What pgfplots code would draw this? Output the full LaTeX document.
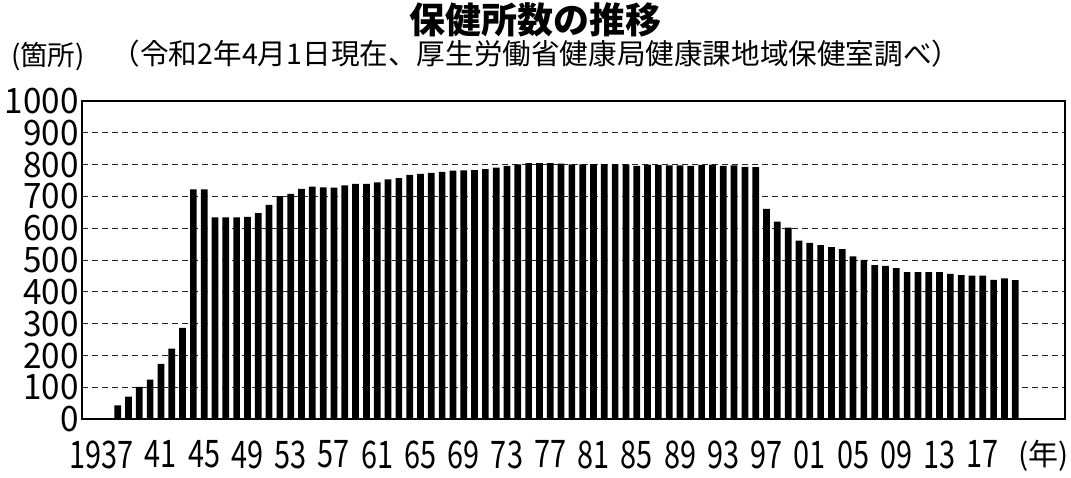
\documentclass[border=0pt]{standalone}
\usepackage{pgfplots}
\pgfplotsset{compat=1.18}
\usepackage{fontspec}
\setmainfont{Noto Sans CJK JP}
\newfontfamily\condfont[FakeStretch=0.76]{Noto Sans CJK JP}
\newfontfamily\semicondfont[FakeStretch=0.95]{Noto Sans CJK JP}

% Number of public health centres by year
\pgfplotstableread{
year count
1937 44
1938 71
1939 102
1940 125
1941 174
1942 222
1943 287
1944 722
1945 722
1946 634
1947 634
1948 634
1949 636
1950 648
1951 674
1952 701
1953 708
1954 724
1955 731
1956 729
1957 728
1958 735
1959 740
1960 740
1961 744
1962 754
1963 758
1964 768
1965 771
1966 774
1967 777
1968 781
1969 782
1970 783
1971 786
1972 791
1973 796
1974 801
1975 805
1976 805
1977 805
1978 803
1979 801
1980 801
1981 802
1982 802
1983 802
1984 801
1985 796
1986 800
1987 799
1988 798
1989 798
1990 796
1991 799
1992 800
1993 796
1994 798
1995 793
1996 792
1997 661
1998 621
1999 602
2000 561
2001 554
2002 547
2003 541
2004 535
2005 512
2006 501
2007 484
2008 482
2009 475
2010 462
2011 462
2012 462
2013 462
2014 457
2015 453
2016 451
2017 451
2018 438
2019 443
2020 437
}\hoken

\begin{document}
\begin{tikzpicture}
\path[use as bounding box] (0,0) rectangle (1071pt,478pt);

\node[font=\fontsize{36}{36}\selectfont\bfseries] at (535pt,458pt) {保健所数の推移};
\node[font=\fontsize{28.6}{28.6}\selectfont] at (536pt,424pt) {（令和2年4月1日現在、厚生労働省健康局健康課地域保健室調べ）};
\node[font=\fontsize{27.5}{27.5}\selectfont] at (48pt,421pt) {(箇所)};

\begin{axis}[
  at={(82pt,58.7pt)}, anchor=south west,
  scale only axis, width=983pt, height=318.3pt,
  xmin=1933.7, xmax=2024.6,
  ymin=0, ymax=1000,
  ytick={0,100,...,1000},
  xtick={1937,1941,...,2017},
  xticklabels={\llap{19}37,41,45,49,53,57,61,65,69,73,77,81,85,89,93,97,01,05,09,13,17},
  major tick length=0pt,
  axis line style={line width=1.6pt, black},
  ymajorgrids,
  grid style={line width=1pt, black!85, dash pattern=on 6pt off 4pt},
  /pgf/number format/assume math mode=true,
  yticklabel style={font=\semicondfont\fontsize{35}{35}\selectfont, /pgf/number format/1000 sep={}},
  xticklabel style={font=\condfont\fontsize{38}{38}\selectfont, yshift=-18pt},
  clip=false,
]
\addplot[ybar, bar width=6.7pt, fill=black, draw=none] table[x=year, y=count] {\hoken};
\node[font=\fontsize{30}{30}\selectfont, anchor=center] at (axis cs:2022.6,0) [yshift=-36pt] {(年)};
\end{axis}
\end{tikzpicture}
\end{document}
